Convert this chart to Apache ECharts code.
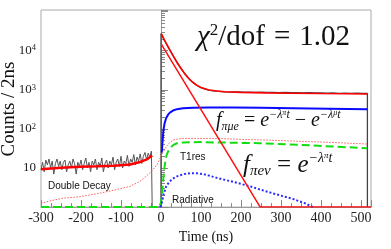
<!DOCTYPE html>
<html>
<head>
<meta charset="utf-8">
<script src="https://cdn.jsdelivr.net/npm/echarts@6/dist/echarts.min.js"></script>
<style>html,body{margin:0;padding:0;background:#fff;}#c{width:391px;height:249px;}</style>
</head>
<body>
<div id="c"></div>
<script>
// ---- data (time in ns, counts / 2ns) ----
var xTicks = [-300, -200, -100, 0, 100, 200, 300, 400, 500];
var yTickLabels = {10: '10', 100: '2', 1000: '3', 10000: '4'};

var dataPre = [
  [-300, 9], [-296, 14], [-292, 8], [-288, 16], [-284, 12], [-280, 17], [-276, 10], [-272, 15],
  [-268, 7], [-264, 13], [-260, 17], [-256, 11], [-252, 15], [-248, 9], [-244, 14], [-240, 16],
  [-236, 8], [-232, 12], [-228, 15], [-224, 10], [-220, 17], [-216, 13], [-212, 7], [-208, 14],
  [-204, 11], [-200, 16], [-196, 9], [-192, 13], [-188, 18], [-184, 10], [-180, 14], [-176, 8],
  [-172, 15], [-168, 12], [-164, 17], [-160, 9], [-156, 14], [-152, 11], [-148, 18], [-144, 8],
  [-140, 13], [-136, 16], [-132, 10], [-128, 15], [-124, 12], [-120, 19], [-116, 9], [-112, 14],
  [-108, 17], [-104, 11], [-100, 20], [-96, 10], [-92, 15], [-88, 13], [-84, 21], [-80, 11],
  [-76, 17], [-72, 14], [-68, 22], [-64, 12], [-60, 19], [-56, 15], [-52, 23], [-48, 13],
  [-44, 20], [-40, 25], [-36, 16], [-32, 24], [-28, 19], [-24, 27], [-22, 27], [-22, 1], [0, 1]
];
var dataPost = [
  [0, 1], [0, 27500], [4, 23500], [8, 19000], [12, 16200], [16, 13600], [20, 11500], [26, 9000],
  [32, 7000], [40, 5100], [48, 3800], [56, 2900], [64, 2250], [72, 1820], [80, 1540], [90, 1290],
  [100, 1130], [110, 1040], [120, 985], [130, 945], [140, 920], [150, 900], [160, 885], [175, 875],
  [190, 880], [205, 865], [220, 875], [235, 860], [250, 865], [265, 855], [280, 860], [295, 850],
  [310, 855], [325, 840], [340, 850], [355, 835], [370, 845], [385, 830], [400, 835], [415, 820],
  [430, 830], [445, 815], [460, 825], [475, 810], [490, 820], [505, 805], [516, 810], [516, 1]
];
var fitPre = [
  [-300, 9.3], [-250, 10.2], [-202, 10.8], [-160, 11.1], [-118, 11.5], [-77, 12.3],
  [-52, 14.3], [-35, 16.7], [-22, 21]
];
var fitPost = [
  [0.5, 27500], [5, 21900], [10, 17500], [15, 14100], [20, 11300], [30, 7450], [40, 5000],
  [50, 3500], [60, 2520], [70, 1920], [80, 1540], [90, 1300], [100, 1150], [120, 990],
  [140, 930], [160, 895], [200, 860], [260, 835], [320, 818], [400, 802], [460, 792], [516, 782]
];
var piEnu = [[1, 14500], [248, 1], [525, 1]];
var piMuE = [
  [2, 25], [4, 50], [6, 90], [9, 140], [13, 190], [18, 235], [23, 265], [30, 295], [40, 320],
  [55, 338], [80, 350], [120, 355], [180, 352], [250, 348], [330, 340], [420, 330], [516, 320]
];
var t1res = [
  [-300, 1], [-5, 1], [0, 1.3], [2.5, 2.1], [6.5, 6.5], [11, 16], [15, 23], [19, 28], [25, 34],
  [31, 39], [40, 43], [56, 45], [100, 46], [140, 45], [248, 43], [350, 39], [430, 35.5], [516, 32]
];
var doubleDecay = [
  [-300, 1.25], [-277, 1.45], [-243, 1.7], [-202, 1.85], [-160, 2.2], [-118, 2.7], [-77, 3.4],
  [-52, 4.6], [-27, 7.6], [-10, 12], [2, 22], [10, 31], [15, 37], [22, 45], [31, 52], [45, 56],
  [60, 57], [100, 57], [140, 57], [200, 54], [260, 52], [350, 48], [430, 45], [516, 41]
];
var radiative = [
  [-2, 1], [3, 1.4], [6.5, 2.1], [12, 3.2], [19, 4.2], [28, 5.2], [40, 6.1], [55, 6.9], [73, 7.4],
  [90, 7.3], [110, 6.8], [140, 5.6], [181, 4.4], [223, 3.4], [248, 2.8], [290, 2.1], [331, 1.6],
  [360, 1.25], [380, 1]
];

var SERIF = 'Liberation Serif';
var SANS = 'Liberation Sans';

var chart = echarts.init(document.getElementById('c'), null, {renderer: 'canvas'});

function line(data, color, width, type, z) {
  return {
    type: 'line', data: data, showSymbol: false, symbol: 'none', animation: false, z: z,
    lineStyle: {color: color, width: width, type: type || 'solid'}, silent: true
  };
}

var option = {
  animation: false,
  textStyle: {fontFamily: SERIF},
  grid: {left: 41, right: 20, top: 10, bottom: 36, show: true, borderColor: '#aaa', borderWidth: 1},
  xAxis: {
    type: 'value', min: -300, max: 525, interval: 100,
    axisLine: {lineStyle: {color: '#999', width: 1}},
    axisTick: {inside: true, length: 7, lineStyle: {color: '#888'}},
    minorTick: {show: true, splitNumber: 4, length: 4, lineStyle: {color: '#888'}},
    splitLine: {show: false},
    axisLabel: {
      margin: 4, showMaxLabel: false, fontFamily: SERIF, fontSize: 14, color: '#222',
      formatter: function (v) { return xTicks.indexOf(v) >= 0 ? '{a|' + v + '}' : ''; },
      rich: {a: {fontFamily: SERIF, fontSize: 14, color: '#222'}}
    },
    name: 'Time (ns)', nameLocation: 'middle', nameGap: 14,
    nameTextStyle: {fontFamily: SERIF, fontSize: 14, color: '#111', padding: [4, 0, 0, 0]}
  },
  yAxis: {
    type: 'log', logBase: 10, min: 1, max: 110000,
    axisLine: {show: true, lineStyle: {color: '#999', width: 1}},
    axisTick: {inside: true, length: 7, lineStyle: {color: '#888'}},
    minorTick: {show: true, splitNumber: 9, length: 4, lineStyle: {color: '#888'}},
    splitLine: {show: false},
    axisLabel: {
      margin: 5, color: '#222', fontFamily: SERIF, showMaxLabel: false, showMinLabel: false,
      formatter: function (v) {
        var k = Math.round(v);
        if (k === 10) return '{b|10}';
        if (yTickLabels[k]) return '{b|10}{s|' + yTickLabels[k] + '}';
        return '';
      },
      rich: {
        b: {fontFamily: SERIF, fontSize: 13, color: '#222', lineHeight: 14},
        s: {fontFamily: SERIF, fontSize: 8.5, color: '#222', verticalAlign: 'top', lineHeight: 8}
      }
    }
  },
  series: [
    line(dataPre, '#555', 1, 'solid', 1),
    line(dataPost, '#444', 1.3, 'solid', 1),
    line(doubleDecay, '#ff5a5a', 1, [1.5, 1.5], 2),
    line(t1res, '#11dd11', 2, [8, 4], 3),
    line(radiative, '#2a2aff', 2, [2, 2], 3),
    line(piMuE, '#0a0aff', 2, 'solid', 4),
    line(piEnu, '#ff1010', 1.5, 'solid', 5),
    line(fitPre, '#ff0000', 2.5, 'solid', 6),
    line(fitPost, '#ff0000', 1.6, 'solid', 6)
  ],
  graphic: [
    {type: 'text', x: 9, y: 109, rotation: Math.PI / 2, silent: true,
      style: {text: 'Counts / 2ns', fontFamily: SERIF, fontSize: 19, fill: '#111', align: 'center', verticalAlign: 'middle'}},
    {type: 'text', x: 197, y: 37, silent: true,
      style: {text: '{i|χ}{s|2}{n|/dof}{e|=}{n|1.02}', verticalAlign: 'middle', fill: '#111',
        rich: {
          i: {fontFamily: SERIF, fontStyle: 'italic', fontSize: 29, lineHeight: 30, fill: '#111'},
          s: {fontFamily: SERIF, fontSize: 17, lineHeight: 17, verticalAlign: 'top', fill: '#111'},
          n: {fontFamily: SERIF, fontSize: 29, lineHeight: 30, fill: '#111'},
          e: {fontFamily: SERIF, fontSize: 29, lineHeight: 30, fill: '#111', padding: [0, 9, 0, 9]}
        }}},
    {type: 'text', x: 216, y: 121, silent: true,
      style: {text: '{f|f}{sub|πμe}{m| = }{f|e}{sp|−λ}{ss|π}{sp|t}{m| − }{f|e}{sp|−λ}{ss|μ}{sp|t}', verticalAlign: 'middle', fill: '#111',
        rich: {
          f: {fontFamily: SERIF, fontStyle: 'italic', fontSize: 20, lineHeight: 24, fill: '#111'},
          m: {fontFamily: SERIF, fontSize: 20, lineHeight: 24, fill: '#111'},
          sub: {fontFamily: SERIF, fontStyle: 'italic', fontSize: 12, lineHeight: 12, verticalAlign: 'bottom', fill: '#111'},
          sp: {fontFamily: SERIF, fontStyle: 'italic', fontSize: 12, lineHeight: 10, verticalAlign: 'top', fill: '#111'},
          ss: {fontFamily: SERIF, fontStyle: 'italic', fontSize: 8, lineHeight: 17, verticalAlign: 'top', fill: '#111'}
        }}},
    {type: 'text', x: 243, y: 165, silent: true,
      style: {text: '{f|f}{sub|πeν}{m| = }{f|e}{sp|−λ}{ss|π}{sp|t}', verticalAlign: 'middle', fill: '#111',
        rich: {
          f: {fontFamily: SERIF, fontStyle: 'italic', fontSize: 25, lineHeight: 28, fill: '#111'},
          m: {fontFamily: SERIF, fontSize: 25, lineHeight: 28, fill: '#111'},
          sub: {fontFamily: SERIF, fontStyle: 'italic', fontSize: 15, lineHeight: 14, verticalAlign: 'bottom', fill: '#111'},
          sp: {fontFamily: SERIF, fontStyle: 'italic', fontSize: 14, lineHeight: 12, verticalAlign: 'top', fill: '#111'},
          ss: {fontFamily: SERIF, fontStyle: 'italic', fontSize: 9, lineHeight: 20, verticalAlign: 'top', fill: '#111'}
        }}},
    {type: 'text', x: 180, y: 157, silent: true,
      style: {text: 'T1res', fontFamily: SANS, fontSize: 10, fill: '#111', verticalAlign: 'middle'}},
    {type: 'text', x: 48, y: 186, silent: true,
      style: {text: 'Double Decay', fontFamily: SANS, fontSize: 10, fill: '#111', verticalAlign: 'middle'}},
    {type: 'text', x: 172, y: 200, silent: true,
      style: {text: 'Radiative', fontFamily: SANS, fontSize: 10, fill: '#111', verticalAlign: 'middle'}}
  ]
};
chart.setOption(option);
</script>
</body>
</html>
